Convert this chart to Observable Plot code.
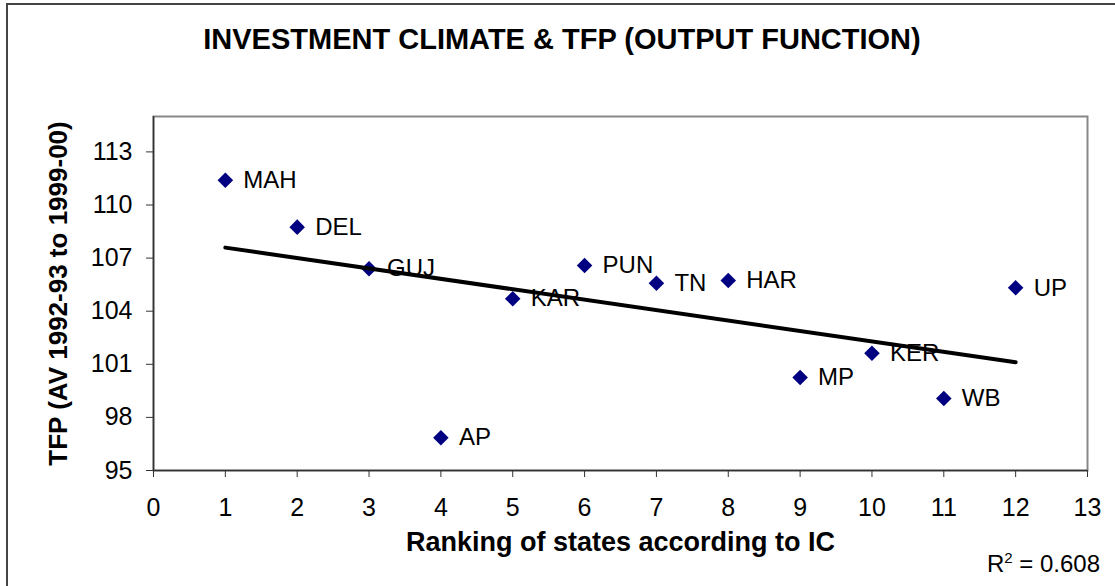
<!DOCTYPE html>
<html>
<head>
<meta charset="utf-8">
<script src="https://cdn.jsdelivr.net/npm/d3@7"></script>
<script src="https://cdn.jsdelivr.net/npm/@observablehq/plot@0.6"></script>
<style>
  html, body { margin: 0; padding: 0; background: #fff; }
  #wrap { position: relative; width: 1115px; height: 586px; overflow: hidden; font-family: "Liberation Sans", Arial, sans-serif; }
  #border { position: absolute; left: 6px; top: 3px; width: 1200px; height: 700px; border-left: 2px solid #444; border-top: 2px solid #444; box-sizing: border-box; }
  #title { position: absolute; left: 0; top: 25px; width: 1124px; text-align: center; font-size: 29px; font-weight: bold; line-height: 1; color: #000; }
  #r2 { position: absolute; right: 15px; top: 552px; font-size: 24px; line-height: 1; color: #000; white-space: nowrap; }
  #r2 sup { font-size: 15px; vertical-align: 9px; line-height: 0; }
  #chart { position: absolute; left: 0; top: 0; }
</style>
</head>
<body>
<div id="wrap">
  <div id="border"></div>
  <div id="chart"></div>
  <div id="title"></div>
  <div id="r2">R<sup>2</sup> = 0.608</div>
</div>
<script>
const titleText = "INVESTMENT CLIMATE & TFP (OUTPUT FUNCTION)";
const xLabel = "Ranking of states according to IC";
const yLabel = "TFP (AV 1992-93 to 1999-00)";

const states = ["MAH", "DEL", "GUJ", "AP", "KAR", "PUN", "TN", "HAR", "MP", "KER", "WB", "UP"];
const ranks  = [1, 2, 3, 4, 5, 6, 7, 8, 9, 10, 11, 12];
const tfp    = [111.40, 108.75, 106.40, 96.85, 104.70, 106.58, 105.58, 105.74, 100.26, 101.62, 99.07, 105.32];

const xTicks = [0, 1, 2, 3, 4, 5, 6, 7, 8, 9, 10, 11, 12, 13];
const yTicks = [95, 98, 101, 104, 107, 110, 113];
const xDomain = [0, 13];
const yDomain = [95, 115];

document.getElementById("title").textContent = titleText;

const data = states.map((s, i) => ({state: s, rank: ranks[i], tfp: tfp[i]}));

const chart = Plot.plot({
  width: 1115,
  height: 586,
  marginLeft: 153,
  marginRight: 28,
  marginTop: 116,
  marginBottom: 116,
  style: { fontFamily: '"Liberation Sans", Arial, sans-serif', color: "#000", background: "transparent", overflow: "visible" },
  x: { domain: xDomain },
  y: { domain: yDomain },
  marks: [
    Plot.frame({ stroke: "#888", strokeWidth: 2 }),
    Plot.ruleX([xDomain[0]], { stroke: "#333", strokeWidth: 1.5 }),
    Plot.ruleY([yDomain[0]], { stroke: "#333", strokeWidth: 1.5 }),
    Plot.axisX({ ticks: xTicks, tickSize: 7, tickPadding: 21, fontSize: 25, stroke: "#333", label: null, tickFormat: d => String(d) }),
    Plot.axisY({ ticks: yTicks, tickSize: 7, tickPadding: 14, fontSize: 25, stroke: "#333", label: null, tickFormat: d => String(d) }),
    Plot.text([xLabel], { frameAnchor: "bottom", dy: 80, textAnchor: "middle", fontSize: 27, fontWeight: "bold", fill: "#000" }),
    Plot.text([yLabel], { frameAnchor: "left", dx: -95, rotate: -90, textAnchor: "middle", lineAnchor: "middle", fontSize: 26, fontWeight: "bold", fill: "#000" }),
    Plot.dot(data, { x: "rank", y: "tfp", symbol: "diamond2", r: 7, fill: "#000080", stroke: "none" }),
    Plot.text(data, { x: "rank", y: "tfp", text: "state", textAnchor: "start", dx: 18, fontSize: 24, fill: "#000" }),
    Plot.linearRegressionY(data, { x: "rank", y: "tfp", stroke: "#000", strokeWidth: 4, ci: 0 })
  ]
});
document.getElementById("chart").appendChild(chart);
</script>
</body>
</html>
